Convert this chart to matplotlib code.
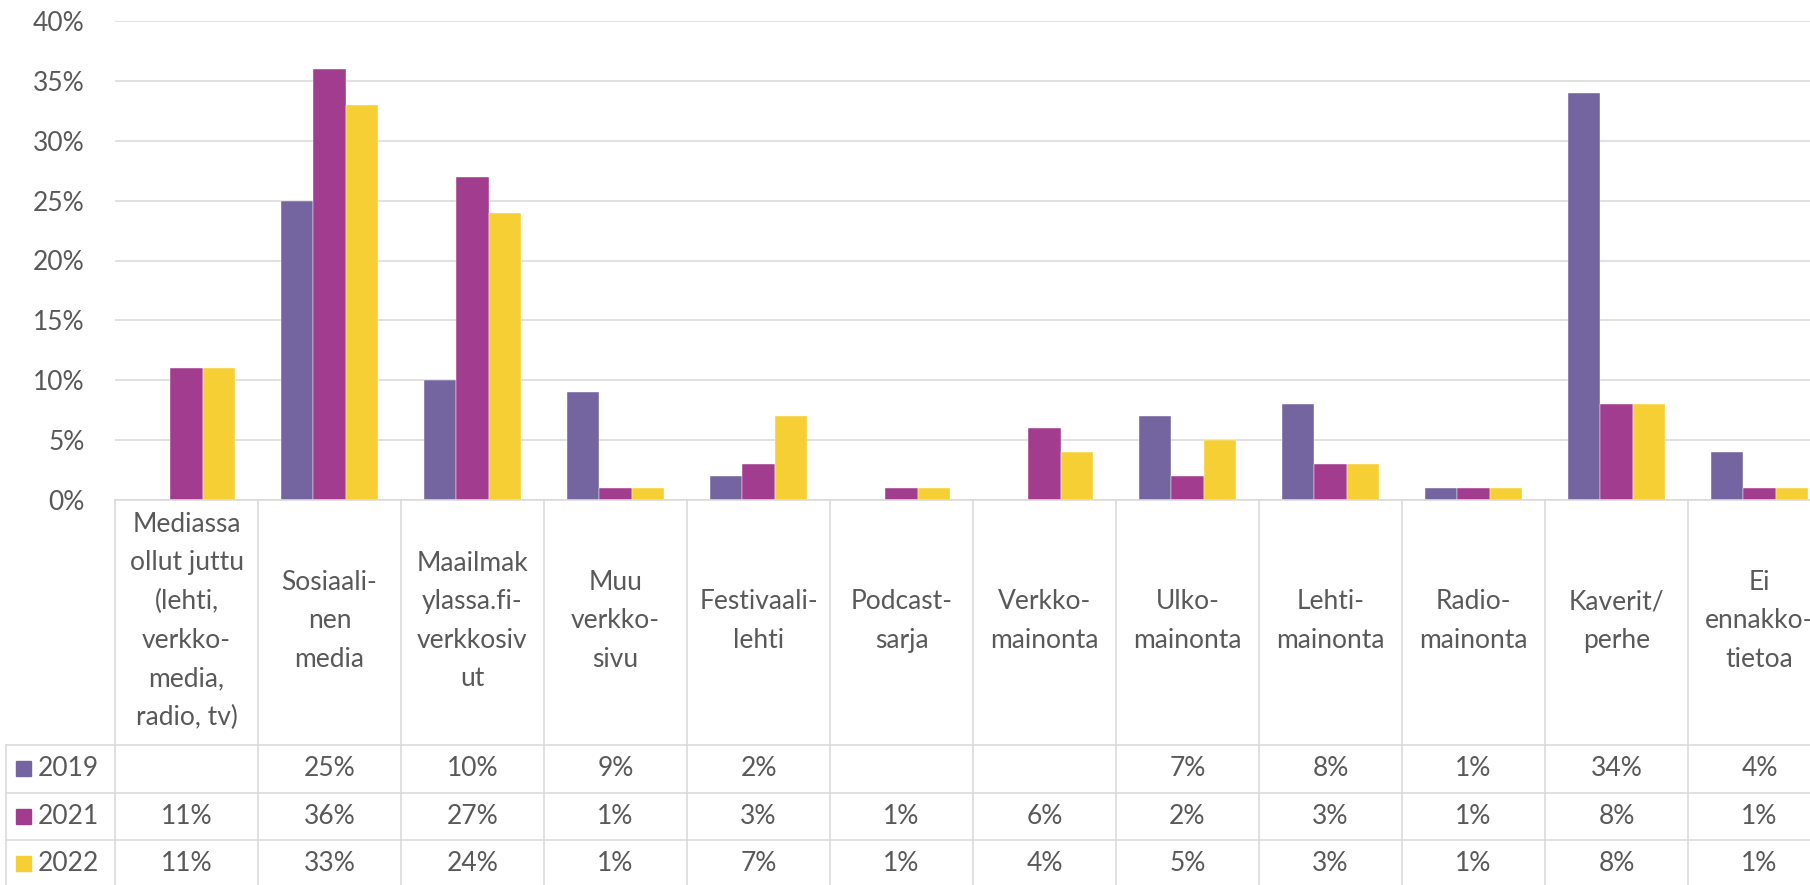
import numpy as np
import matplotlib.pyplot as plt
from matplotlib.patches import Rectangle
from matplotlib.ticker import PercentFormatter

categories = [
    "Mediassa\nollut juttu\n(lehti,\nverkko-\nmedia,\nradio, tv)",
    "Sosiaali-\nnen\nmedia",
    "Maailmak\nylassa.fi-\nverkkosiv\nut",
    "Muu\nverkko-\nsivu",
    "Festivaali-\nlehti",
    "Podcast-\nsarja",
    "Verkko-\nmainonta",
    "Ulko-\nmainonta",
    "Lehti-\nmainonta",
    "Radio-\nmainonta",
    "Kaverit/\nperhe",
    "Ei\nennakko-\ntietoa",
]
years = ["2019", "2021", "2022"]
v2019 = [np.nan, 0.25, 0.10, 0.09, 0.02, np.nan, np.nan, 0.07, 0.08, 0.01, 0.34, 0.04]
v2021 = [0.11, 0.36, 0.27, 0.01, 0.03, 0.01, 0.06, 0.02, 0.03, 0.01, 0.08, 0.01]
v2022 = [0.11, 0.33, 0.24, 0.01, 0.07, 0.01, 0.04, 0.05, 0.03, 0.01, 0.08, 0.01]
series = [v2019, v2021, v2022]
colors = ["#7464A0", "#A23C8E", "#F5CF33"]

plt.rcParams['font.family'] = ['Lato', 'DejaVu Sans']
TXT = "#595959"
LINE = "#D9D9D9"
FS = 19

W, H = 1810, 885
left, zero_y, top_y = 115, 500, 21   # pixel positions
col_w = 143
n = len(categories)

fig = plt.figure(figsize=(W / 100, H / 100), dpi=100)
ax = fig.add_axes([left / W, (H - zero_y) / H, n * col_w / W, (zero_y - top_y) / H])

x = np.arange(n)
bw = 0.224
for i, (vals, c) in enumerate(zip(series, colors)):
    ax.bar(x + (i - 1) * bw, vals, bw, color=c, edgecolor="white", linewidth=0.3, zorder=3)

ax.set_xlim(-0.5, n - 0.5)
ax.set_ylim(0, 0.40)
ax.set_yticks(np.arange(0, 0.41, 0.05))
ax.yaxis.set_major_formatter(PercentFormatter(1.0, decimals=0))
ax.tick_params(axis='y', length=0, pad=22, labelsize=FS, labelcolor=TXT)
ax.set_xticks([])
ax.yaxis.grid(True, color=LINE, linewidth=1.1)
ax.set_axisbelow(True)
for s in ax.spines.values():
    s.set_visible(False)

# data table below the chart, y measured in pixels from the top
tab = fig.add_axes([left / W, 0, n * col_w / W, (H - zero_y) / H])
tab.set_xlim(-0.5, n - 0.5)
tab.set_ylim(H, zero_y)
tab.axis('off')


def px(p):
    return -0.5 + (p - left) / col_w


head_bot = 745
row_h = 47.5
row_lines = [head_bot + k * row_h for k in range(4)]
x_first = px(6)

lk = dict(color=LINE, linewidth=1.1, clip_on=False)
tab.plot([-0.5, n - 0.5], [zero_y, zero_y], **lk)
for k in range(n + 1):
    tab.plot([k - 0.5, k - 0.5], [zero_y, H + 5], **lk)
tab.plot([x_first, x_first], [head_bot, H + 5], **lk)
for y in row_lines:
    tab.plot([x_first, n - 0.5], [y, y], **lk)

for i, lab in enumerate(categories):
    tab.text(i, 621, lab, ha='center', va='center', fontsize=FS, color=TXT,
             linespacing=1.68, clip_on=False)

for r, (yr, vals, c) in enumerate(zip(years, series, colors)):
    yc = head_bot + (r + 0.5) * row_h
    tab.add_patch(Rectangle((px(16), yc - 7.5), 15 / col_w, 15, color=c, clip_on=False))
    tab.text(px(38), yc, yr, ha='left', va='center', fontsize=FS, color=TXT)
    for i, v in enumerate(vals):
        if not np.isnan(v):
            tab.text(i, yc, f"{round(v * 100)}%", ha='center', va='center',
                     fontsize=FS, color=TXT, clip_on=False)

fig.savefig("out.png", dpi=100)
